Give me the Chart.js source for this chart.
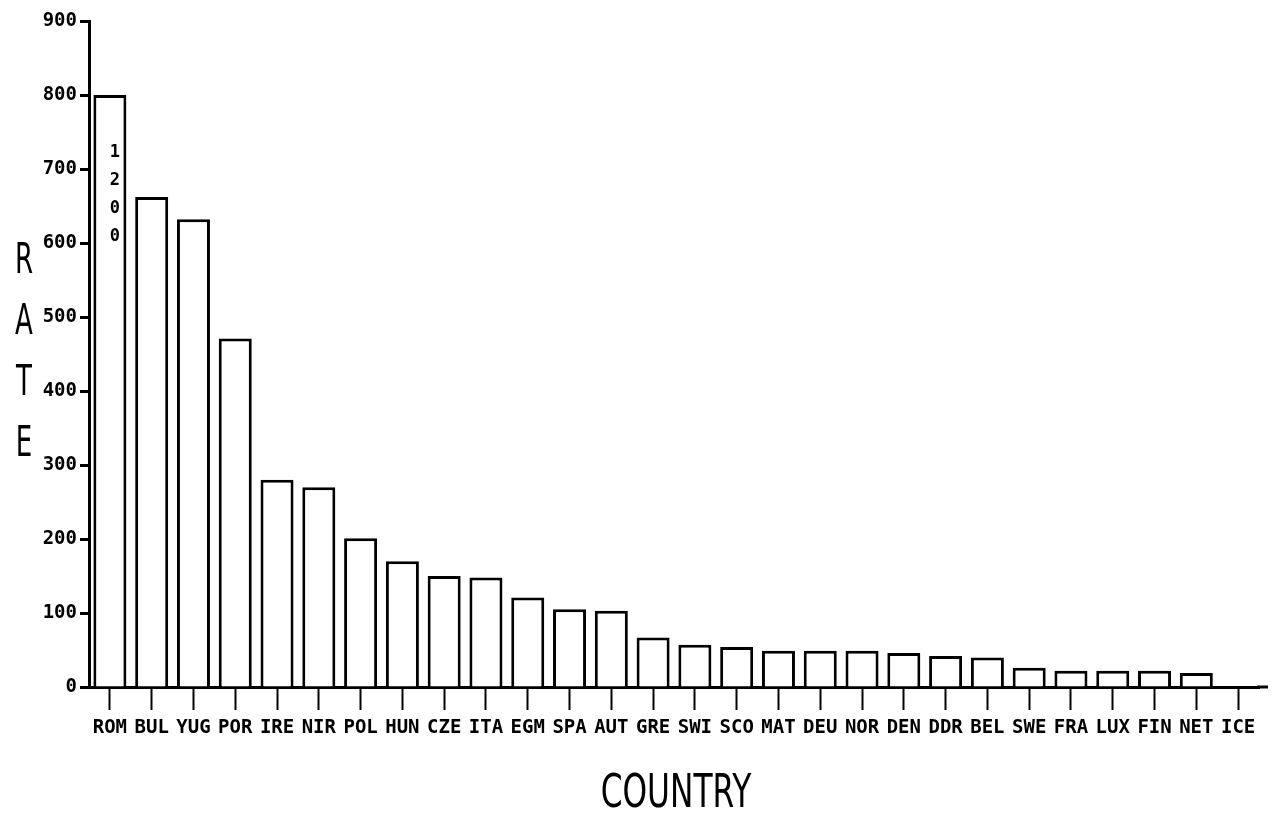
<!DOCTYPE html>
<html>
<head>
<meta charset="utf-8">
<script src="https://cdn.jsdelivr.net/npm/chart.js@4"></script>
<style>
  html, body { margin: 0; padding: 0; background: #ffffff; }
  #wrap { width: 1278px; height: 818px; }
</style>
</head>
<body>
<div id="wrap"><canvas id="c" width="1278" height="818"></canvas></div>
<script>
// Rates by country, highest first
const countries = ['ROM','BUL','YUG','POR','IRE','NIR','POL','HUN','CZE','ITA','EGM','SPA','AUT','GRE',
                   'SWI','SCO','MAT','DEU','NOR','DEN','DDR','BEL','SWE','FRA','LUX','FIN','NET','ICE'];
const rates = [1200, 662, 632, 471, 280, 270, 201, 170, 150, 148, 121, 105, 103, 67,
               57, 54, 49, 49, 49, 46, 42, 40, 26, 22, 22, 22, 19, 1];
const yTicks = [0, 100, 200, 300, 400, 500, 600, 700, 800, 900];

// Bars taller than the cap are cut off there and carry their value as a stacked label
const barCap = 800;
const drawnRates = rates.map(v => Math.min(v, barCap));

const INK = '#000000';
const tickFont = { family: '"DejaVu Sans Mono", monospace', weight: 'bold', size: 19 };

const annotations = {
  id: 'annotations',
  afterDraw(chart) {
    const ctx = chart.ctx;
    const area = chart.chartArea;
    const yScale = chart.scales.y;
    ctx.save();
    ctx.fillStyle = INK;
    ctx.strokeStyle = INK;

    // baseline runs a little past the last category
    ctx.lineWidth = 3;
    ctx.beginPath();
    ctx.moveTo(area.right - 2, area.bottom);
    ctx.lineTo(area.right + 9, area.bottom);
    ctx.stroke();

    // value of capped bars, written downward inside the bar
    const meta = chart.getDatasetMeta(0);
    ctx.font = 'bold 17px "DejaVu Sans Mono", monospace';
    ctx.textAlign = 'center';
    ctx.textBaseline = 'middle';
    rates.forEach((v, i) => {
      if (v <= barCap) return;
      const el = meta.data[i];
      const top = yScale.getPixelForValue(barCap);
      String(v).split('').forEach((ch, k) => {
        ctx.fillText(ch, el.x + 5, top + 58 + k * 28);
      });
    });

    // axis titles in a narrow plotter-style lettering
    ctx.font = '42px "DejaVu Sans", sans-serif';
    const yTitle = 'RATE';
    yTitle.split('').forEach((ch, k) => {
      ctx.save();
      ctx.translate(24, 262 + k * 61);
      ctx.scale(0.62, 1);
      ctx.fillText(ch, 0, 0);
      ctx.restore();
    });

    ctx.save();
    ctx.font = '46px "DejaVu Sans", sans-serif';
    ctx.translate(676, 795);
    ctx.scale(0.68, 1);
    ctx.fillText('COUNTRY', 0, 0);
    ctx.restore();

    ctx.restore();
  }
};

new Chart(document.getElementById('c'), {
  type: 'bar',
  data: {
    labels: countries,
    datasets: [{
      data: drawnRates,
      backgroundColor: '#ffffff',
      borderColor: INK,
      borderWidth: 3,
      barPercentage: 0.79,
      categoryPercentage: 1.0
    }]
  },
  options: {
    responsive: false,
    devicePixelRatio: 1,
    animation: false,
    layout: { padding: { top: 21, right: 19, left: 0, bottom: 0 } },
    plugins: {
      legend: { display: false },
      tooltip: { enabled: false },
      title: { display: false }
    },
    scales: {
      x: {
        afterFit(scale) { scale.height = 131; },
        grid: {
          offset: false,
          drawOnChartArea: false,
          drawTicks: true,
          tickLength: 23,
          tickWidth: 2,
          tickColor: INK,
          color: INK
        },
        border: { display: true, color: INK, width: 3 },
        ticks: {
          color: INK,
          font: tickFont,
          padding: 7,
          autoSkip: false,
          maxRotation: 0,
          minRotation: 0
        }
      },
      y: {
        min: 0,
        max: 900,
        afterFit(scale) { scale.width = 89; },
        afterBuildTicks(scale) { scale.ticks = yTicks.map(v => ({ value: v })); },
        grid: {
          drawOnChartArea: false,
          drawTicks: true,
          tickLength: 9,
          tickWidth: 3,
          tickColor: INK,
          color: INK
        },
        border: { display: true, color: INK, width: 3 },
        ticks: {
          color: INK,
          font: tickFont,
          padding: 3,
          callback: v => String(v)
        }
      }
    }
  },
  plugins: [annotations]
});
</script>
</body>
</html>
